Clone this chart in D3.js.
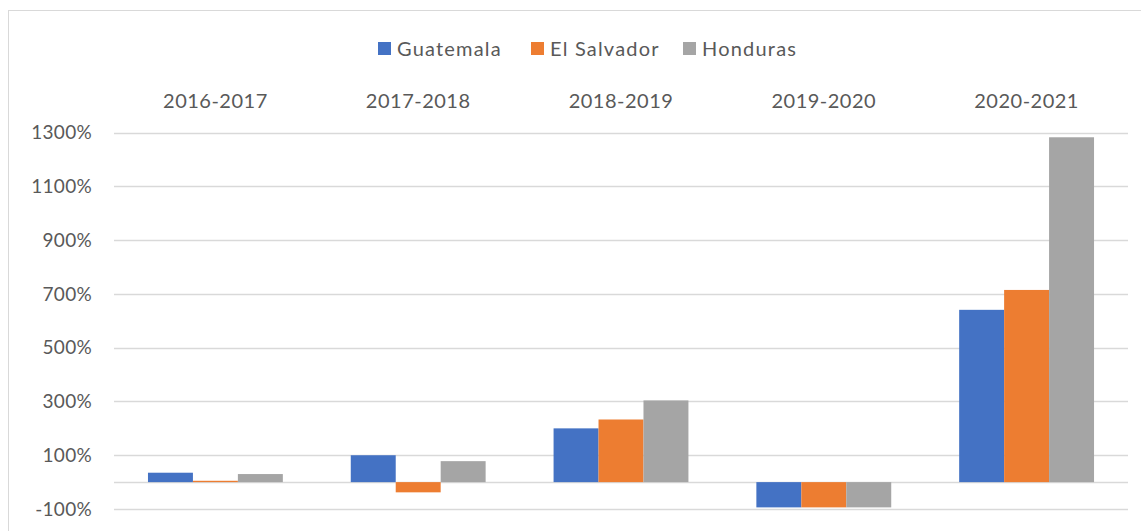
<!DOCTYPE html>
<head>
<meta charset="utf-8">
<script src="https://d3js.org/d3.v7.min.js"></script>
<style>
  body { margin: 0; background: #fff; }
  text { font-family: Lato, "Open Sans", sans-serif; fill: #595959; }
</style>
</head>
<body>
<svg id="chart" width="1141" height="531"></svg>
<script>
// data
var periods = ["2016-2017", "2017-2018", "2018-2019", "2019-2020", "2020-2021"];
var countries = ["Guatemala", "El Salvador", "Honduras"];
var colors = ["#4472C4", "#ED7D31", "#A5A5A5"];
var guatemala = [35, 100, 200, -94, 641];
var elSalvador = [5, -38, 233, -94, 715];
var honduras = [30, 78, 304, -94, 1283];
var yTicks = [-100, 100, 300, 500, 700, 900, 1100, 1300];

var series = [guatemala, elSalvador, honduras];

var svg = d3.select("#chart");

// outer chart border
svg.append("rect")
  .attr("x", 8.5).attr("y", 10.5)
  .attr("width", 1140).attr("height", 530)
  .attr("fill", "none").attr("stroke", "#d9d9d9").attr("stroke-width", 1);

var left = 114, right = 1128;
var x = d3.scaleBand().domain(periods).range([left, right]).paddingInner(0.335).paddingOuter(0.1675);
var xs = d3.scaleBand().domain(countries).range([0, x.bandwidth()]);
var y = d3.scaleLinear().domain([-100, 1300]).range([509, 132.7]);

// gridlines
svg.append("g").selectAll("line")
  .data(yTicks.concat([0]))
  .enter().append("line")
  .attr("x1", left).attr("x2", right)
  .attr("y1", function(d) { return Math.round(y(d)) + 0.5; })
  .attr("y2", function(d) { return Math.round(y(d)) + 0.5; })
  .attr("stroke", "#d9d9d9").attr("stroke-width", 1.5);

// y axis labels
var yAxis = svg.append("g")
  .attr("transform", "translate(" + left + ",0)")
  .call(d3.axisLeft(y).tickValues(yTicks).tickFormat(function(d) { return d + "%"; }).tickSize(0).tickPadding(22));
yAxis.select(".domain").remove();
yAxis.selectAll("text").attr("font-size", "19px").attr("font-family", "Lato, sans-serif").attr("fill", "#595959")
  .attr("letter-spacing", "0.3px");

// category labels on top
var xAxis = svg.append("g")
  .attr("transform", "translate(0,108)")
  .call(d3.axisTop(x).tickSize(0).tickPadding(0));
xAxis.select(".domain").remove();
xAxis.selectAll("text").attr("font-size", "20px").attr("font-family", "Lato, sans-serif").attr("fill", "#595959")
  .attr("letter-spacing", "0.5px").attr("dy", "0");

// bars
countries.forEach(function(c, ci) {
  svg.append("g").selectAll("rect")
    .data(series[ci])
    .enter().append("rect")
    .attr("x", function(d, i) { return x(periods[i]) + xs(c); })
    .attr("width", xs.bandwidth())
    .attr("y", function(d) { return Math.min(y(d), y(0)); })
    .attr("height", function(d) { return Math.abs(y(d) - y(0)); })
    .attr("fill", colors[ci]);
});

// legend
var legendX = [378, 531, 683];
var legend = svg.append("g");
countries.forEach(function(c, i) {
  legend.append("rect").attr("x", legendX[i]).attr("y", 42).attr("width", 13).attr("height", 13).attr("fill", colors[i]);
  legend.append("text").attr("x", legendX[i] + 19).attr("y", 56).attr("font-size", "20px")
    .attr("letter-spacing", "1.2px").text(c);
});
</script>
</body>
</html>
